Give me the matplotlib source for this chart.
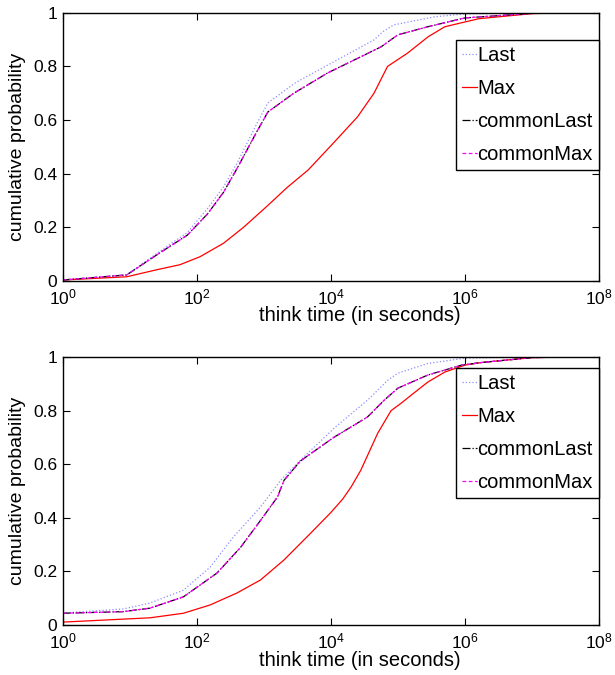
import matplotlib
matplotlib.use('Agg')
import matplotlib.pyplot as plt

plt.rcParams['font.family'] = ['Liberation Sans', 'DejaVu Sans']
plt.rcParams['mathtext.fontset'] = 'custom'
plt.rcParams['mathtext.rm'] = 'Liberation Sans'
plt.rcParams['mathtext.it'] = 'Liberation Sans'

# ---- top panel (think time CDFs) ----
top_last_x = [1, 9, 28, 72, 145, 250, 400, 800, 1150, 3000, 11000, 44000, 60000, 87000, 350000, 1e6, 1e7, 3e7]
top_last_y = [0.003, 0.022, 0.11, 0.18, 0.27, 0.35, 0.44, 0.59, 0.664, 0.74, 0.817, 0.899, 0.93, 0.955, 0.985, 0.996, 1.0, 1.0]

top_max_x = [1, 9, 25, 56, 112, 250, 500, 1100, 2200, 4600, 11000, 25000, 44000, 70000, 140000, 280000, 500000, 1.6e6, 1e7, 3e7]
top_max_y = [0.003, 0.015, 0.041, 0.06, 0.09, 0.14, 0.20, 0.277, 0.347, 0.414, 0.515, 0.612, 0.70, 0.80, 0.85, 0.91, 0.948, 0.978, 0.997, 1.0]

top_common_x = [1, 9, 28, 72, 145, 250, 400, 800, 1150, 2800, 9000, 28000, 56000, 100000, 280000, 1e6, 1e7, 3e7]
top_common_y = [0.003, 0.022, 0.104, 0.17, 0.25, 0.33, 0.42, 0.56, 0.63, 0.70, 0.776, 0.836, 0.873, 0.918, 0.948, 0.981, 0.998, 1.0]

# ---- bottom panel ----
bot_last_x = [1, 8, 20, 63, 158, 355, 890, 1780, 3160, 8000, 11200, 35500, 71000, 100000, 280000, 1e6, 1e7, 3e7]
bot_last_y = [0.045, 0.06, 0.082, 0.13, 0.216, 0.33, 0.44, 0.54, 0.604, 0.70, 0.735, 0.84, 0.914, 0.94, 0.976, 0.996, 1.0, 1.0]

bot_max_x = [1, 20, 63, 158, 400, 890, 2000, 5000, 10000, 15000, 20000, 28000, 50000, 79000, 112000, 158000, 280000, 500000, 1e6, 1.8e6, 1e7, 3e7]
bot_max_y = [0.011, 0.027, 0.044, 0.075, 0.12, 0.168, 0.243, 0.343, 0.42, 0.47, 0.515, 0.578, 0.716, 0.80, 0.828, 0.858, 0.907, 0.944, 0.97, 0.98, 0.998, 1.0]

bot_common_x = [1, 8, 20, 63, 200, 450, 890, 1600, 2000, 3500, 11000, 35000, 63000, 100000, 280000, 890000, 1.8e6, 1e7, 3e7]
bot_common_y = [0.044, 0.05, 0.063, 0.105, 0.194, 0.29, 0.39, 0.478, 0.54, 0.612, 0.70, 0.776, 0.84, 0.884, 0.933, 0.97, 0.98, 0.998, 1.0]

labels = ['Last', 'Max', 'commonLast', 'commonMax']
xticks = [1, 1e2, 1e4, 1e6, 1e8]
xticklabels = [r'$10^0$', r'$10^2$', r'$10^4$', r'$10^6$', r'$10^8$']
yticks = [0, 0.2, 0.4, 0.6, 0.8, 1]
yticklabels = ['0', '0.2', '0.4', '0.6', '0.8', '1']

fig = plt.figure(figsize=(6.15, 6.75), dpi=100)
ax1 = fig.add_axes([0.102, 0.584, 0.872, 0.397])
ax2 = fig.add_axes([0.102, 0.074, 0.872, 0.397])

panels = [
    (ax1, top_last_x, top_last_y, top_max_x, top_max_y, top_common_x, top_common_y, 0.899),
    (ax2, bot_last_x, bot_last_y, bot_max_x, bot_max_y, bot_common_x, bot_common_y, 0.959),
]

for ax, lx, ly, mx, my, cx, cy, leg_top in panels:
    ax.plot(lx, ly, ':', color='#8c8cff', lw=0.9, label=labels[0])
    ax.plot(mx, my, '-', color='red', lw=0.9, label=labels[1])
    ax.plot(cx, cy, '-.', color='black', lw=0.9, label=labels[2])
    ax.plot(cx, cy, '--', color='magenta', lw=0.9, dashes=(3, 2), label=labels[3])
    ax.set_xscale('log')
    ax.set_xlim(1, 1e8)
    ax.set_ylim(0, 1)
    ax.set_xticks(xticks)
    ax.set_xticklabels(xticklabels)
    ax.minorticks_off()
    ax.set_yticks(yticks)
    ax.set_yticklabels(yticklabels)
    ax.tick_params(direction='in', top=True, right=True, labelsize=12.5, length=5, width=0.8)
    ax.tick_params(axis='x', pad=5)
    ax.tick_params(axis='y', pad=4)
    ax.set_xlabel('think time (in seconds)', fontsize=14.5)
    ax.xaxis.set_label_coords(0.554, -0.095)
    ax.set_ylabel('cumulative probability', fontsize=14)
    ax.yaxis.set_label_coords(-0.068, 0.5)
    for s in ax.spines.values():
        s.set_linewidth(1.0)
    leg = ax.legend(loc='upper right', bbox_to_anchor=(1.0, leg_top), borderaxespad=0,
                    fontsize=14.5, handlelength=0.7, handletextpad=0.05, labelspacing=0.7,
                    fancybox=False, edgecolor='black', framealpha=1, borderpad=0.3)
    leg.get_frame().set_linewidth(1.0)

plt.savefig('out.png', dpi=100)
